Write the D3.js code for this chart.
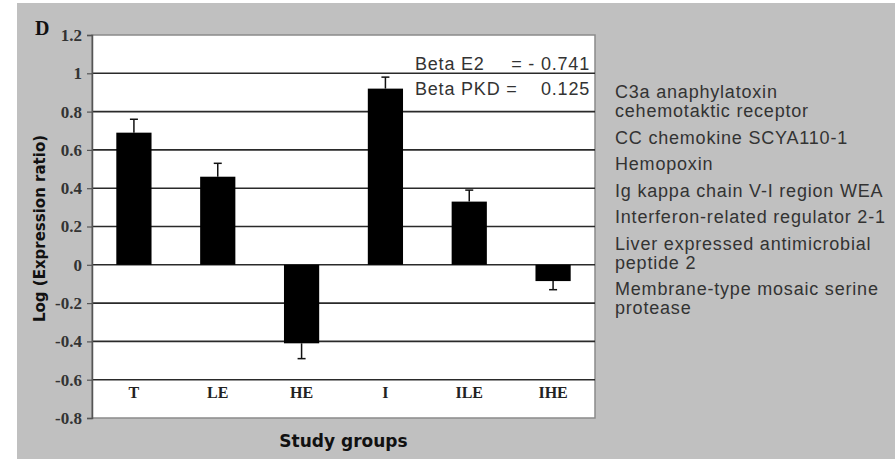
<!DOCTYPE html>
<html lang="en">
<head>
  <meta charset="UTF-8">
  <title>Log expression ratio by study group</title>
  <script src="https://d3js.org/d3.v7.min.js"></script>
  <style>
    body { margin: 0; background: #fff; }
    svg { display: block; }
    .tick-label, .cat-label, .panel { font-family: "Liberation Serif", "Times New Roman", serif; font-weight: bold; }
    .axis-title { font-family: "DejaVu Sans", Verdana, sans-serif; font-weight: bold; fill: #111; }
    .note { font-family: "Liberation Sans", Arial, sans-serif; fill: #333; letter-spacing: 0.8px; }
  </style>
</head>
<body>
  <svg id="chart" width="895" height="459"></svg>

  <script>
    // data
    const groups = ['T', 'LE', 'HE', 'I', 'ILE', 'IHE'];
    const means  = [0.69, 0.46, -0.41, 0.92, 0.33, -0.085];
    const errors = [0.07, 0.07, 0.08, 0.06, 0.06, 0.045];
    const yTicks = [1.2, 1, 0.8, 0.6, 0.4, 0.2, 0, -0.2, -0.4, -0.6, -0.8];
    const yTickLabels = ['1.2', '1', '0.8', '0.6', '0.4', '0.2', '0', '-0.2', '-0.4', '-0.6', '-0.8'];
    const betaLines = [['Beta E2', '= - 0.741'], ['Beta PKD =', '0.125']];
    const genes = [
      ['C3a anaphylatoxin', 'cehemotaktic receptor'],
      ['CC chemokine SCYA110-1'],
      ['Hemopoxin'],
      ['Ig kappa chain V-I region WEA'],
      ['Interferon-related regulator 2-1'],
      ['Liver expressed antimicrobial', 'peptide 2'],
      ['Membrane-type mosaic serine', 'protease']
    ];

    const svg = d3.select('#chart');
    const plot = { left: 92, right: 595, top: 35, bottom: 418 };

    // grey panel background
    svg.append('rect')
      .attr('x', 17).attr('y', 3)
      .attr('width', 895 - 17).attr('height', 459 - 3)
      .attr('fill', '#c0c0c0');

    const y = d3.scaleLinear().domain([-0.8, 1.2]).range([plot.bottom, plot.top]);
    const x = d3.scaleBand().domain(groups)
      .range([plot.left, plot.right])
      .paddingInner(0.58).paddingOuter(0.29);

    // plot area
    svg.append('rect')
      .attr('x', plot.left).attr('y', plot.top)
      .attr('width', plot.right - plot.left).attr('height', plot.bottom - plot.top)
      .attr('fill', '#fff').attr('stroke', '#8a8a8a').attr('stroke-width', 1.5);

    // gridlines
    svg.append('g').selectAll('line')
      .data(yTicks.filter(d => d < 1.2 && d > -0.8))
      .join('line')
        .attr('x1', plot.left).attr('x2', plot.right)
        .attr('y1', d => y(d)).attr('y2', d => y(d))
        .attr('stroke', '#2a2a2a').attr('stroke-width', 1.6);

    // y axis
    const yAxis = d3.axisLeft(y)
      .tickValues(yTicks)
      .tickSize(5)
      .tickPadding(5)
      .tickFormat((d, i) => yTickLabels[i]);
    const yg = svg.append('g')
      .attr('transform', `translate(${plot.left},0)`)
      .call(yAxis);
    yg.select('.domain').attr('stroke', '#555').attr('stroke-width', 1.5);
    yg.selectAll('.tick line').attr('stroke', '#555').attr('stroke-width', 1.2);
    yg.selectAll('.tick text')
      .attr('class', 'tick-label')
      .attr('fill', '#333')
      .style('font-size', '17px');

    // bars
    svg.append('g').selectAll('rect')
      .data(groups)
      .join('rect')
        .attr('x', d => x(d))
        .attr('width', x.bandwidth())
        .attr('y', (d, i) => y(Math.max(0, means[i])))
        .attr('height', (d, i) => Math.abs(y(means[i]) - y(0)))
        .attr('fill', '#000');

    // error bars (one-sided, away from zero)
    const eb = svg.append('g').attr('stroke', '#111').attr('stroke-width', 1.5);
    groups.forEach((g, i) => {
      const cx = x(g) + x.bandwidth() / 2;
      const end = means[i] + Math.sign(means[i]) * errors[i];
      eb.append('line')
        .attr('x1', cx).attr('x2', cx)
        .attr('y1', y(means[i])).attr('y2', y(end));
      eb.append('line')
        .attr('x1', cx - 4).attr('x2', cx + 4)
        .attr('y1', y(end)).attr('y2', y(end));
    });

    // category labels inside plot, above bottom
    svg.append('g').selectAll('text')
      .data(groups)
      .join('text')
        .attr('class', 'cat-label')
        .attr('x', d => x(d) + x.bandwidth() / 2)
        .attr('y', y(-0.6) + 18)
        .attr('text-anchor', 'middle')
        .attr('fill', '#222')
        .style('font-size', '16px')
        .text(d => d);

    // panel letter
    svg.append('text')
      .attr('class', 'panel')
      .attr('x', 35).attr('y', 35)
      .style('font-size', '20px')
      .attr('fill', '#111')
      .text('D');

    // axis titles
    svg.append('text')
      .attr('class', 'axis-title')
      .attr('transform', `translate(45,${(plot.top + plot.bottom) / 2 + 2}) rotate(-90)`)
      .attr('text-anchor', 'middle')
      .style('font-size', '15px')
      .text('Log (Expression ratio)');

    svg.append('text')
      .attr('class', 'axis-title')
      .attr('x', (plot.left + plot.right) / 2)
      .attr('y', 447)
      .attr('text-anchor', 'middle')
      .style('font-size', '17px')
      .text('Study groups');

    // beta annotation
    betaLines.forEach((row, i) => {
      const ty = 70 + i * 25;
      svg.append('text').attr('class', 'note')
        .attr('x', 415).attr('y', ty)
        .style('font-size', '18px')
        .text(row[0]);
      svg.append('text').attr('class', 'note')
        .attr('x', 590).attr('y', ty)
        .attr('text-anchor', 'end')
        .style('font-size', '18px')
        .text(row[1]);
    });

    // gene list on the right
    let gy = 98;
    genes.forEach(lines => {
      lines.forEach((ln, j) => {
        svg.append('text').attr('class', 'note')
          .attr('x', 615).attr('y', gy + j * 19)
          .style('font-size', '18px')
          .text(ln);
      });
      gy += (lines.length - 1) * 19 + 26.5;
    });
  </script>
</body>
</html>
